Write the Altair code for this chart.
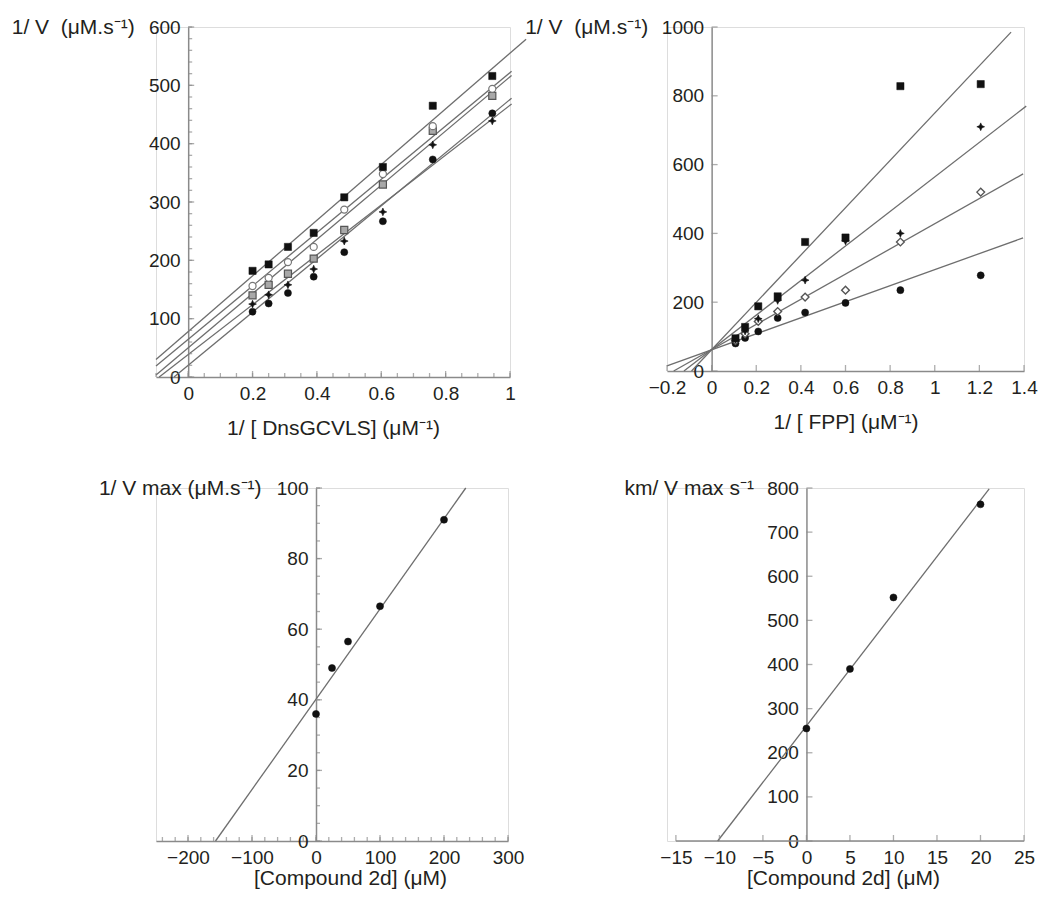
import altair as alt
import pandas as pd

FONT = "Liberation Sans"
TXT = "#231f20"
AX = "#8a8a8a"
LN = "#6e6e6e"
LFS = 19   # tick label font size
TFS = 21   # title font size
NB = "\u00a0"

# ---------------- Panel A : 1/V vs 1/[DnsGCVLS] ----------------
a_x = [0.2, 0.25, 0.31, 0.39, 0.485, 0.605, 0.76, 0.945]
a_sq = [182, 193, 223, 247, 308, 360, 465, 516]
a_oc = [156, 170, 197, 223, 287, 348, 430, 494]
a_gs = [140, 158, 177, 203, 252, 330, 422, 482]
a_st = [125, 141, 158, 185, 233, 283, 398, 439]
a_fc = [112, 126, 144, 172, 214, 267, 373, 452]
a_fit_x0 = [-0.1, -0.1, -0.1, -0.09, -0.044]
a_fit_y0 = [30, 19, 3.5, 0, 0]
a_fit_x1 = [1.05, 1.005, 1.005, 1.005, 1.005]
a_fit_y1 = [579, 524, 517, 468, 478]

# ---------------- Panel B : 1/V vs 1/[FPP] ----------------
b_x = [0.107, 0.15, 0.209, 0.296, 0.419, 0.6, 0.846, 1.206]
b_sq = [95, 128, 188, 217, 375, 388, 828, 834]
b_st = [92, 116, 152, 205, 264, 378, 400, 710]
b_od = [88, 108, 144, 173, 215, 235, 375, 520]
b_fc = [80, 96, 115, 154, 170, 198, 235, 278]
b_fit_x0 = [-0.09, -0.124, -0.17, -0.2]
b_fit_y0 = [0, 0, 0, 15]
b_fit_x1 = [1.342, 1.41, 1.396, 1.396]
b_fit_y1 = [985, 770, 573, 387]

# ---------------- Panel C : 1/Vmax vs [Compound 2d] ----------------
c_x = [0, 25, 50, 100, 200]
c_y = [36, 49, 56.5, 66.5, 91]
c_fit_x = [-157, 234]
c_fit_y = [0, 100]

# ---------------- Panel D : Km/Vmax vs [Compound 2d] ----------------
d_x = [0, 5, 10, 20]
d_y = [255, 390, 552, 763]
d_fit_x = [-10.2, 21]
d_fit_y = [0, 798]

STAR = "M0,-1L0.3,-0.3L1,0L0.3,0.3L0,1L-0.3,0.3L-1,0L-0.3,-0.3Z"


def frange(a, b, step):
    out = []
    n = int(round((b - a) / step))
    for i in range(n + 1):
        out.append(round(a + i * step, 6))
    return out


def panel(width, height, xdom, ydom, xvals, yvals, xminor, yminor,
          ytitle, ytitle_x, xtitle, series, fits, xline=None, xtitle_x=None,
          xtitle_pad=14):
    zero_px = (0 - xdom[0]) / (xdom[1] - xdom[0]) * width
    xaxis_kw = dict(values=xvals, format="~r", ticks=False, grid=False,
                    domain=xline is None, domainColor=AX, domainWidth=1.5,
                    labelFontSize=LFS, labelColor=TXT, labelPadding=7,
                    labelFlush=False, labelOverlap=False, title=xtitle,
                    titleFontSize=TFS, titleFontWeight="normal", titleColor=TXT,
                    titlePadding=xtitle_pad, labelFont=FONT, titleFont=FONT)
    if xtitle_x is not None:
        xaxis_kw["titleX"] = xtitle_x
    X = alt.X("x:Q", scale=alt.Scale(domain=xdom, nice=False, zero=False),
              axis=alt.Axis(**xaxis_kw))
    Y = alt.Y("y:Q", scale=alt.Scale(domain=ydom, nice=False, zero=False),
              axis=alt.Axis(values=yvals, format="~r", ticks=False, grid=False,
                            offset=-zero_px, domainColor=AX, domainWidth=1.5,
                            labelFontSize=LFS, labelColor=TXT, labelPadding=8,
                            labelFlush=False, labelOverlap=False, title=ytitle,
                            titleAngle=0, titleAlign="right", titleBaseline="middle",
                            titleX=ytitle_x, titleY=0, titleFontSize=TFS,
                            titleFontWeight="normal", titleColor=TXT,
                            labelFont=FONT, titleFont=FONT))
    layers = []
    if xline is not None:
        df = pd.DataFrame({"x": [xline[0]], "x2": [xline[1]], "y": [0]})
        layers.append(alt.Chart(df).mark_rule(color=AX, strokeWidth=1.5)
                      .encode(x=X, x2="x2:Q", y=Y))
    # fitted lines
    rows = []
    for i, (x0, y0, x1, y1) in enumerate(fits):
        rows.append({"s": i, "x": x0, "y": y0})
        rows.append({"s": i, "x": x1, "y": y1})
    layers.append(alt.Chart(pd.DataFrame(rows)).mark_line(color=LN, strokeWidth=1.3, clip=False)
                  .encode(x=X, y=Y, detail="s:N"))
    # y ticks (pointing inward)
    for vals, size in [(yminor, 4), (yvals, 6)]:
        if not vals:
            continue
        df = pd.DataFrame({"x": [0] * len(vals), "y": vals})
        layers.append(alt.Chart(df).mark_tick(orient="horizontal", size=size, thickness=1.3,
                                              color=AX, xOffset=size / 2)
                      .encode(x=X, y=Y))
    for vals, size in [(xminor, 4), (xvals, 6)]:
        if not vals:
            continue
        df = pd.DataFrame({"x": vals, "y": [0] * len(vals)})
        layers.append(alt.Chart(df).mark_tick(orient="vertical", size=size, thickness=1.3,
                                              color=AX, yOffset=-size / 2)
                      .encode(x=X, y=Y))
    for xs, ys, style in series:
        df = pd.DataFrame({"x": xs, "y": ys})
        layers.append(alt.Chart(df).mark_point(opacity=1, **style).encode(x=X, y=Y))
    return alt.layer(*layers).properties(width=width, height=height)


sq = dict(shape="square", filled=True, fill="#111111", stroke="#111111", strokeWidth=0.5, size=52)
oc = dict(shape="circle", filled=True, fill="white", stroke="#777777", strokeWidth=1.2, size=50)
gs = dict(shape="square", filled=True, fill="#a8a8a8", stroke="#555555", strokeWidth=1.2, size=50)
st = dict(shape=STAR, filled=True, fill="#111111", stroke="#111111", strokeWidth=0.6, size=60)
fc = dict(shape="circle", filled=True, fill="#111111", stroke="#111111", strokeWidth=0.5, size=50)
od = dict(shape="diamond", filled=True, fill="white", stroke="#555555", strokeWidth=1.4, size=60)

pA = panel(354, 350, [-0.1, 1.0], [0, 600],
           [0, 0.2, 0.4, 0.6, 0.8, 1], [0, 100, 200, 300, 400, 500, 600],
           frange(-0.1, 1.0, 0.05), frange(0, 600, 20),
           "1/ V" + NB + NB + "(\u03bcM.s\u207b\u00b9)", -54,
           "1/ [ DnsGCVLS] (\u03bcM\u207b\u00b9)",
           [(a_x, a_fc, fc), (a_x, a_st, st), (a_x, a_gs, gs), (a_x, a_oc, oc), (a_x, a_sq, sq)],
           list(zip(a_fit_x0, a_fit_y0, a_fit_x1, a_fit_y1)))

pB = panel(357, 344, [-0.2, 1.4], [0, 1000],
           [-0.2, 0, 0.2, 0.4, 0.6, 0.8, 1, 1.2, 1.4], [0, 200, 400, 600, 800, 1000],
           [], [],
           "1/ V" + NB + NB + "(\u03bcM.s\u207b\u00b9)", -64,
           "1/ [ FPP] (\u03bcM\u207b\u00b9)",
           [(b_x, b_fc, fc), (b_x, b_od, od), (b_x, b_st, st), (b_x, b_sq, sq)],
           list(zip(b_fit_x0, b_fit_y0, b_fit_x1, b_fit_y1)))

pC = panel(352, 353, [-250, 300], [0, 100],
           [-200, -100, 0, 100, 200, 300], [0, 20, 40, 60, 80, 100],
           frange(-240, 300, 20), frange(0, 100, 5),
           "1/ V max (\u03bcM.s\u207b\u00b9)", -55, "[Compound 2d] (\u03bcM)",
           [(c_x, c_y, fc)],
           [(c_fit_x[0], c_fit_y[0], c_fit_x[1], c_fit_y[1])],
           xtitle_x=194, xtitle_pad=0)

pD = panel(357, 353, [-16.023, 25], [0, 800],
           [-15, -10, -5, 0, 5, 10, 15, 20, 25], [0, 100, 200, 300, 400, 500, 600, 700, 800],
           [], [],
           "km/ V max s\u207b\u00b9", -53, "[Compound 2d] (\u03bcM)",
           [(d_x, d_y, fc)],
           [(d_fit_x[0], d_fit_y[0], d_fit_x[1], d_fit_y[1])],
           xline=(-15, 25), xtitle_x=176, xtitle_pad=0)

chart = alt.concat(pA, pB, pC, pD, columns=2, bounds="flush",
                   spacing={"row": 111, "column": 157}).properties(
    padding={"left": 2, "top": 7, "right": 0, "bottom": 0}
).configure_view(stroke=None).configure(font=FONT)

chart.save("out.html", embed_options={"renderer": "svg", "actions": False})
